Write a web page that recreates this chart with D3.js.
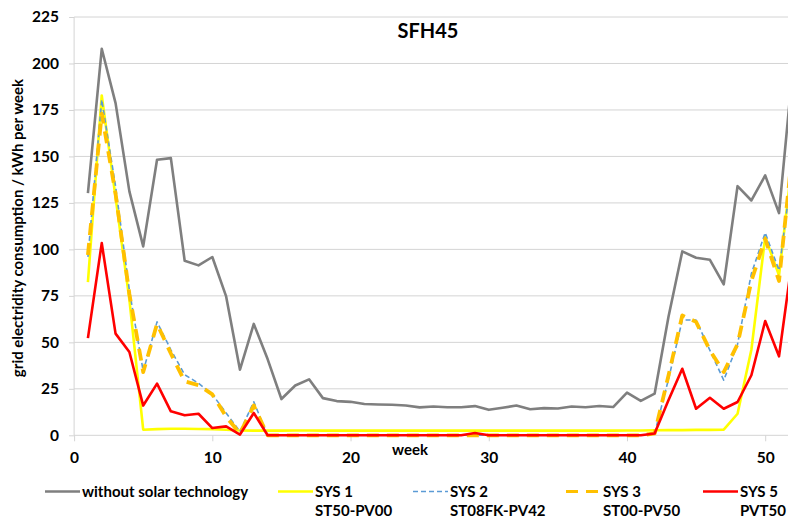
<!DOCTYPE html>
<html>
<head>
<meta charset="utf-8">
<script src="https://cdn.jsdelivr.net/npm/d3@7"></script>
<style>
  html, body { margin: 0; padding: 0; background: #fff; }
  svg { display: block; font-family: Lato, "Open Sans", sans-serif; }
</style>
</head>
<body>
<svg id="chart" width="788" height="520"></svg>
<script>
// Weekly grid electricity consumption (kWh per week), single family house SFH45
const weeks = d3.range(1, 53);

const withoutSolar = [130.3, 207.9, 178.7, 131.2, 101.6, 148.2, 149.1, 93.9, 91.4, 95.9,
  74.7, 35.3, 59.9, 41, 19.5, 26.8, 30.1, 20, 18.4, 18,
  16.8, 16.6, 16.4, 16, 15, 15.5, 15.1, 15.1, 15.7, 13.7,
  14.8, 16, 14, 14.6, 14.4, 15.5, 15.1, 15.8, 15.2, 23,
  18.5, 22.4, 63.6, 98.9, 95.5, 94.4, 81.2, 134, 126.3, 139.8,
  119.5, 198];

const sys1 = [82.4, 182.8, 128, 73, 3.0, 3.3, 3.5, 3.5, 3.4, 3.3,
  3.0, 2.6, 2.5, 2.5, 2.5, 2.6, 2.6, 2.5, 2.6, 2.5,
  2.5, 2.5, 2.5, 2.5, 2.5, 2.5, 2.5, 2.5, 2.5, 2.5,
  2.5, 2.5, 2.5, 2.5, 2.5, 2.5, 2.5, 2.5, 2.5, 2.6,
  2.6, 2.7, 2.8, 2.8, 2.9, 2.9, 3.0, 11.6, 46, 106.6,
  86, 150];

const sys2 = [96, 180.5, 134, 78, 34.4, 61, 46, 32.6, 28, 22,
  12, 2, 18, 0, 0, 0, 0, 0, 0, 0,
  0, 0, 0, 0, 0, 0, 0, 0, 0, 0,
  0, 0, 0, 0, 0, 0, 0, 0, 0, 0,
  0, 1, 30, 62, 62, 45.7, 29.6, 49, 87, 109,
  88.7, 146];

const sys3 = [97, 173, 130, 76, 34, 60, 44, 29, 27, 22,
  10, 1, 16, 0, 0, 0, 0, 0, 0, 0,
  0, 0, 0, 0, 0, 0, 0, 0, 0, 0,
  0, 0, 0, 0, 0, 0, 0, 0, 0, 0,
  0, 1, 32, 64.5, 61, 45.7, 34, 49, 83, 105.7,
  83, 155];

const sys5 = [52.3, 103.4, 54.7, 44.8, 16, 27.8, 12.9, 10.8, 11.6, 3.9,
  4.8, 0.4, 12, 0, 0, 0, 0, 0, 0, 0,
  0, 0, 0, 0, 0, 0, 0, 0, 1.2, 0,
  0, 0, 0, 0, 0, 0, 0, 0, 0, 0,
  0, 1, 18.8, 35.8, 14.3, 20.2, 14.3, 17.9, 32.3, 61.5,
  42.5, 97];

const yTicks = [0, 25, 50, 75, 100, 125, 150, 175, 200, 225];
const xTicks = [0, 10, 20, 30, 40, 50];

const seriesNames = ["without solar technology", "SYS 1", "SYS 2", "SYS 3", "SYS 5"];
const seriesSubtitles = ["", "ST50-PV00", "ST08FK-PV42", "ST00-PV50", "PVT50"];

const series = [
  { name: seriesNames[0], sub: seriesSubtitles[0], values: withoutSolar, color: "#7f7f7f", width: 2.6, dash: null },
  { name: seriesNames[1], sub: seriesSubtitles[1], values: sys1, color: "#ffff00", width: 2.6, dash: null },
  { name: seriesNames[2], sub: seriesSubtitles[2], values: sys2, color: "#5b9bd5", width: 1.6, dash: "5,3" },
  { name: seriesNames[3], sub: seriesSubtitles[3], values: sys3, color: "#ffc000", width: 3.8, dash: "12,8" },
  { name: seriesNames[4], sub: seriesSubtitles[4], values: sys5, color: "#ff0000", width: 2.6, dash: null }
];

const svg = d3.select("#chart");
const W = 788, H = 520;
svg.append("rect").attr("width", W).attr("height", H).attr("fill", "#fff");

const x = d3.scaleLinear().domain([0, 50]).range([74.1, 765.2]);
const y = d3.scaleLinear().domain([0, 225]).range([435.3, 17]);

// horizontal gridlines
svg.append("g").selectAll("line").data(yTicks.filter(d => d > 0)).join("line")
  .attr("x1", x(0)).attr("x2", W)
  .attr("y1", d => y(d)).attr("y2", d => y(d))
  .attr("stroke", "#d4d4d4").attr("stroke-width", 1);

// y axis
const yAxis = svg.append("g").attr("transform", `translate(${x(0)},0)`)
  .call(d3.axisLeft(y).tickValues(yTicks).tickSize(5).tickPadding(10));
yAxis.select(".domain").attr("stroke", "#d4d4d4").attr("d", `M0,${y(0)}V${y(225)}`);
yAxis.selectAll(".tick line").attr("stroke", "#d4d4d4");
yAxis.selectAll(".tick text").attr("font-family", "Lato, sans-serif")
  .attr("font-size", 15.5).attr("font-weight", "bold").attr("fill", "#000");

// x axis
const xAxis = svg.append("g").attr("transform", `translate(0,${y(0)})`)
  .call(d3.axisBottom(x).tickValues(xTicks).tickSize(6).tickPadding(11));
xAxis.select(".domain").attr("stroke", "#d4d4d4").attr("d", `M${x(0)},0H${W}`);
xAxis.selectAll(".tick line").attr("stroke", "#d4d4d4");
xAxis.selectAll(".tick text").attr("font-family", "Lato, sans-serif")
  .attr("font-size", 15.5).attr("font-weight", "bold").attr("fill", "#000");

// series lines
const line = d3.line().x((d, i) => x(weeks[i])).y(d => y(d));
svg.append("g").selectAll("path").data(series).join("path")
  .attr("d", s => line(s.values))
  .attr("fill", "none")
  .attr("stroke", s => s.color)
  .attr("stroke-width", s => s.width)
  .attr("stroke-dasharray", s => s.dash)
  .attr("stroke-linejoin", "round");

// title
svg.append("text").attr("x", 428).attr("y", 38).attr("text-anchor", "middle")
  .attr("font-size", 20).attr("font-weight", "bold").text("SFH45");

// axis titles
svg.append("text").attr("transform", "translate(23,228) rotate(-90)")
  .attr("text-anchor", "middle").attr("font-size", 15).attr("font-weight", "bold")
  .text("grid electridity consumption  / kWh per week");
svg.append("text").attr("x", 410).attr("y", 455).attr("text-anchor", "middle")
  .attr("font-size", 15).attr("font-weight", "bold").text("week");

// legend
const legendX = [45, 278, 413, 566, 703];
const lg = svg.append("g").selectAll("g").data(series).join("g")
  .attr("transform", (s, i) => `translate(${legendX[i]},0)`);
lg.append("line").attr("x1", 0).attr("x2", 35).attr("y1", 491.5).attr("y2", 491.5)
  .attr("stroke", s => s.color).attr("stroke-width", s => Math.min(s.width, 3))
  .attr("stroke-dasharray", s => s.dash);
lg.append("text").attr("x", 37).attr("y", 497).attr("font-size", 15).attr("font-weight", "bold")
  .text(s => s.name);
lg.append("text").attr("x", 37).attr("y", 516).attr("font-size", 15).attr("font-weight", "bold")
  .text(s => s.sub);
</script>
</body>
</html>
